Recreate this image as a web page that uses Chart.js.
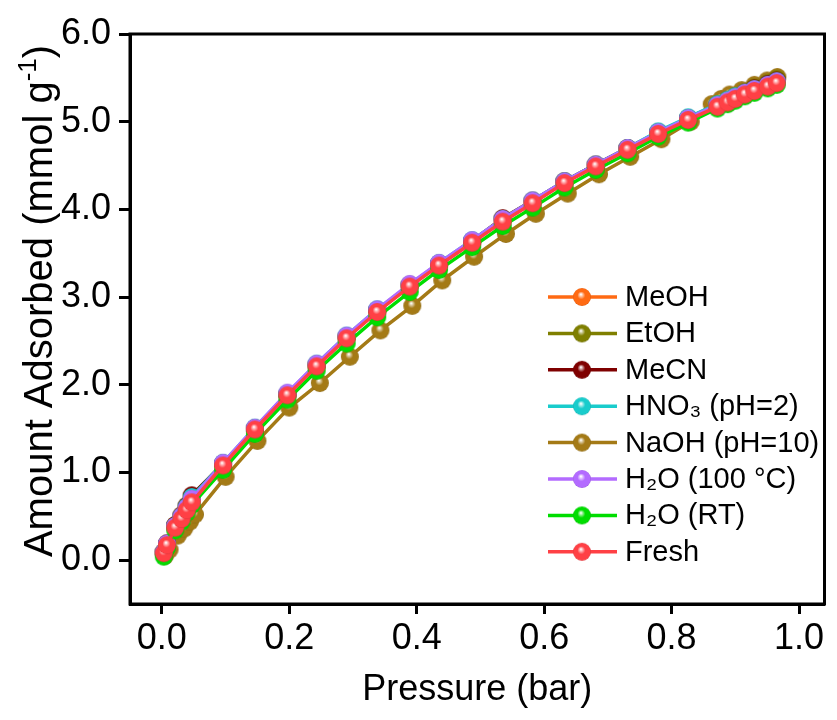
<!DOCTYPE html>
<html>
<head>
<meta charset="utf-8">
<script src="https://cdn.jsdelivr.net/npm/chart.js@4/dist/chart.umd.min.js"></script>
<style>
  html, body { margin: 0; padding: 0; background: #ffffff; }
  #wrap { width: 837px; height: 720px; }
</style>
</head>
<body>
<div id="wrap"><canvas id="c" width="837" height="720"></canvas></div>
<script>
// ---- Data ----
const seriesNames = ["MeOH", "EtOH", "MeCN", "HNO\u2083 (pH=2)", "NaOH (pH=10)", "H\u2082O (100 \u00B0C)", "H\u2082O (RT)", "Fresh"];
const seriesColors = ["#ff6a13", "#7f7f00", "#7f0000", "#19cccc", "#a47a16", "#b36bff", "#00dd00", "#ff4045"];

const pressure = [0.003, 0.008, 0.021, 0.031, 0.039, 0.047, 0.096, 0.146, 0.197, 0.243, 0.290, 0.338, 0.389, 0.435, 0.487, 0.535, 0.582, 0.632, 0.681, 0.731, 0.779, 0.826, 0.872, 0.888, 0.900, 0.915, 0.930, 0.951, 0.965];
const pressureNaOH = [0.005, 0.012, 0.025, 0.035, 0.044, 0.052, 0.100, 0.150, 0.200, 0.248, 0.295, 0.343, 0.393, 0.440, 0.490, 0.540, 0.587, 0.637, 0.686, 0.735, 0.784, 0.830, 0.863, 0.878, 0.891, 0.910, 0.930, 0.950, 0.966];

const meoh   = [0.09, 0.18, 0.38, 0.49, 0.59, 0.70, 1.10, 1.50, 1.89, 2.22, 2.54, 2.84, 3.13, 3.37, 3.63, 3.88, 4.08, 4.31, 4.50, 4.69, 4.87, 5.03, 5.19, 5.24, 5.28, 5.33, 5.37, 5.43, 5.47];
const etoh   = [0.09, 0.19, 0.40, 0.51, 0.62, 0.73, 1.10, 1.50, 1.89, 2.22, 2.54, 2.85, 3.13, 3.38, 3.64, 3.89, 4.09, 4.32, 4.51, 4.70, 4.88, 5.04, 5.20, 5.25, 5.29, 5.34, 5.39, 5.44, 5.49];
const mecn   = [0.09, 0.19, 0.40, 0.51, 0.62, 0.74, 1.10, 1.50, 1.89, 2.23, 2.55, 2.85, 3.14, 3.38, 3.64, 3.90, 4.10, 4.32, 4.51, 4.70, 4.88, 5.04, 5.19, 5.24, 5.28, 5.33, 5.38, 5.43, 5.47];
const hno3   = [0.09, 0.18, 0.39, 0.50, 0.61, 0.72, 1.11, 1.51, 1.90, 2.24, 2.56, 2.86, 3.14, 3.39, 3.65, 3.89, 4.10, 4.32, 4.51, 4.70, 4.89, 5.05, 5.20, 5.25, 5.29, 5.33, 5.37, 5.42, 5.46];
const naoh   = [0.05, 0.12, 0.28, 0.36, 0.44, 0.52, 0.95, 1.36, 1.74, 2.02, 2.32, 2.62, 2.90, 3.19, 3.46, 3.72, 3.95, 4.18, 4.40, 4.60, 4.80, 5.00, 5.20, 5.26, 5.31, 5.36, 5.42, 5.47, 5.51];
const h2o100 = [0.09, 0.19, 0.39, 0.50, 0.60, 0.70, 1.11, 1.51, 1.91, 2.24, 2.56, 2.86, 3.15, 3.39, 3.65, 3.89, 4.10, 4.32, 4.51, 4.70, 4.88, 5.04, 5.19, 5.24, 5.28, 5.33, 5.37, 5.42, 5.46];
const h2ort  = [0.04, 0.14, 0.34, 0.44, 0.54, 0.63, 1.03, 1.44, 1.83, 2.16, 2.47, 2.77, 3.06, 3.31, 3.57, 3.81, 4.02, 4.25, 4.45, 4.64, 4.83, 4.99, 5.15, 5.20, 5.24, 5.29, 5.33, 5.38, 5.42];
const fresh  = [0.08, 0.17, 0.37, 0.47, 0.57, 0.66, 1.08, 1.49, 1.88, 2.21, 2.53, 2.83, 3.12, 3.36, 3.62, 3.86, 4.07, 4.30, 4.49, 4.68, 4.86, 5.02, 5.17, 5.22, 5.26, 5.31, 5.35, 5.40, 5.44];

const seriesValues = [meoh, etoh, mecn, hno3, naoh, h2o100, h2ort, fresh];
const seriesPressures = [pressure, pressure, pressure, pressure, pressureNaOH, pressure, pressure, pressure];
const drawOrder = [6, 5, 4, 3, 7, 2, 1, 0];

const xTicks = [0.0, 0.2, 0.4, 0.6, 0.8, 1.0];
const yTicks = [0.0, 1.0, 2.0, 3.0, 4.0, 5.0, 6.0];
const xTitle = "Pressure (bar)";
const yTitleMain = "Amount Adsorbed (mmol g";
const yTitleSup = "-1";
const yTitleEnd = ")";

// ---- helpers ----
const FONT = "Arial, 'Liberation Sans', Helvetica, sans-serif";
function hexToRgb(h) { const n = parseInt(h.slice(1), 16); return [(n >> 16) & 255, (n >> 8) & 255, n & 255]; }
function mix(h, t, f) { const a = hexToRgb(h); const b = hexToRgb(t); return 'rgb(' + a.map((v, i) => Math.round(v + (b[i] - v) * f)).join(',') + ')'; }
function sphere(color, r) {
  const s = Math.ceil(2 * r + 2);
  const c = document.createElement('canvas');
  c.width = s; c.height = s;
  const g = c.getContext('2d');
  const cx = s / 2, cy = s / 2;
  const grad = g.createRadialGradient(cx - 0.12 * r, cy - 0.3 * r, 0.3, cx, cy, r);
  grad.addColorStop(0, '#ffffff');
  grad.addColorStop(0.16, mix(color, '#ffffff', 0.6));
  grad.addColorStop(0.42, color);
  grad.addColorStop(0.9, color);
  grad.addColorStop(1, mix(color, '#000000', 0.15));
  g.fillStyle = grad;
  g.beginPath(); g.arc(cx, cy, r, 0, Math.PI * 2); g.fill();
  return c;
}

const datasets = seriesNames.map((name, i) => ({
  label: name,
  data: seriesPressures[i].map((p, k) => ({ x: p, y: seriesValues[i][k] })),
  borderColor: seriesColors[i],
  backgroundColor: seriesColors[i],
  borderWidth: 3.5,
  pointStyle: sphere(seriesColors[i], 9),
  pointRadius: 9,
  tension: 0,
  order: drawOrder[i]
}));

const boxPlugin = {
  id: 'boxAndLegend',
  afterDatasetsDraw(chart) {
    const ctx = chart.ctx, a = chart.chartArea;
    ctx.save();
    ctx.strokeStyle = '#000'; ctx.lineWidth = 3;
    ctx.strokeRect(a.left, a.top, a.right - a.left, a.bottom - a.top);
    // legend
    const x0 = a.left + 418, x1 = a.left + 487, xm = a.left + 452, xt = a.left + 495;
    let y = a.top + 263;
    const step = 36.4;
    ctx.font = '29px ' + FONT;
    ctx.textBaseline = 'middle';
    ctx.textAlign = 'left';
    chart.data.datasets.forEach((ds) => {
      ctx.strokeStyle = ds.borderColor; ctx.lineWidth = 3.5;
      ctx.beginPath(); ctx.moveTo(x0, y); ctx.lineTo(x1, y); ctx.stroke();
      const img = ds.pointStyle;
      ctx.drawImage(img, xm - img.width / 2, y - img.height / 2);
      ctx.fillStyle = '#000';
      ctx.fillText(ds.label, xt, y + 1);
      y += step;
    });
    ctx.restore();
  },
  afterDraw(chart) {
    // y-axis title with a real superscript
    const ctx = chart.ctx, a = chart.chartArea;
    ctx.save();
    ctx.fillStyle = '#000';
    ctx.textBaseline = 'alphabetic';
    ctx.textAlign = 'left';
    const big = '40px ' + FONT, small = '26px ' + FONT;
    ctx.font = big; const w1 = ctx.measureText(yTitleMain).width; const w3 = ctx.measureText(yTitleEnd).width;
    ctx.font = small; const w2 = ctx.measureText(yTitleSup).width;
    const total = w1 + w2 + w3;
    const cy = (a.top + a.bottom) / 2 - 18;
    ctx.translate(52, cy);
    ctx.rotate(-Math.PI / 2);
    let x = -total / 2;
    ctx.font = big; ctx.fillText(yTitleMain, x, 0); x += w1;
    ctx.font = small; ctx.fillText(yTitleSup, x, -16); x += w2;
    ctx.font = big; ctx.fillText(yTitleEnd, x, 0);
    ctx.restore();
  }
};

new Chart(document.getElementById('c'), {
  type: 'line',
  data: { datasets },
  options: {
    responsive: false,
    animation: false,
    layout: { padding: { top: 34, right: 5, left: 0, bottom: 0 } },
    plugins: { legend: { display: false }, tooltip: { enabled: false } },
    scales: {
      x: {
        type: 'linear', min: -0.05, max: 1.04,
        afterBuildTicks: (s) => { s.ticks = xTicks.map(v => ({ value: v })); },
        afterFit: (s) => { s.height = 116; },
        ticks: { color: '#000', font: { family: FONT, size: 36 }, padding: 3, callback: (v) => Number(v).toFixed(1), maxRotation: 0 },
        grid: { display: true, drawOnChartArea: false, drawTicks: true, tickLength: 10, tickWidth: 3, color: '#000' },
        border: { display: true, color: '#000', width: 3 },
        title: { display: true, text: xTitle, color: '#000', font: { family: FONT, size: 36 }, padding: { top: 0, bottom: 8 } }
      },
      y: {
        type: 'linear', min: -0.5, max: 6.0,
        afterBuildTicks: (s) => { s.ticks = yTicks.map(v => ({ value: v })); },
        afterFit: (s) => { s.width = 130; },
        ticks: { color: '#000', font: { family: FONT, size: 36 }, padding: 8, callback: (v) => Number(v).toFixed(1) },
        grid: { display: true, drawOnChartArea: false, drawTicks: true, tickLength: 11, tickWidth: 3, color: '#000' },
        border: { display: true, color: '#000', width: 3 },
        title: { display: false }
      }
    }
  },
  plugins: [boxPlugin]
});
</script>
</body>
</html>
